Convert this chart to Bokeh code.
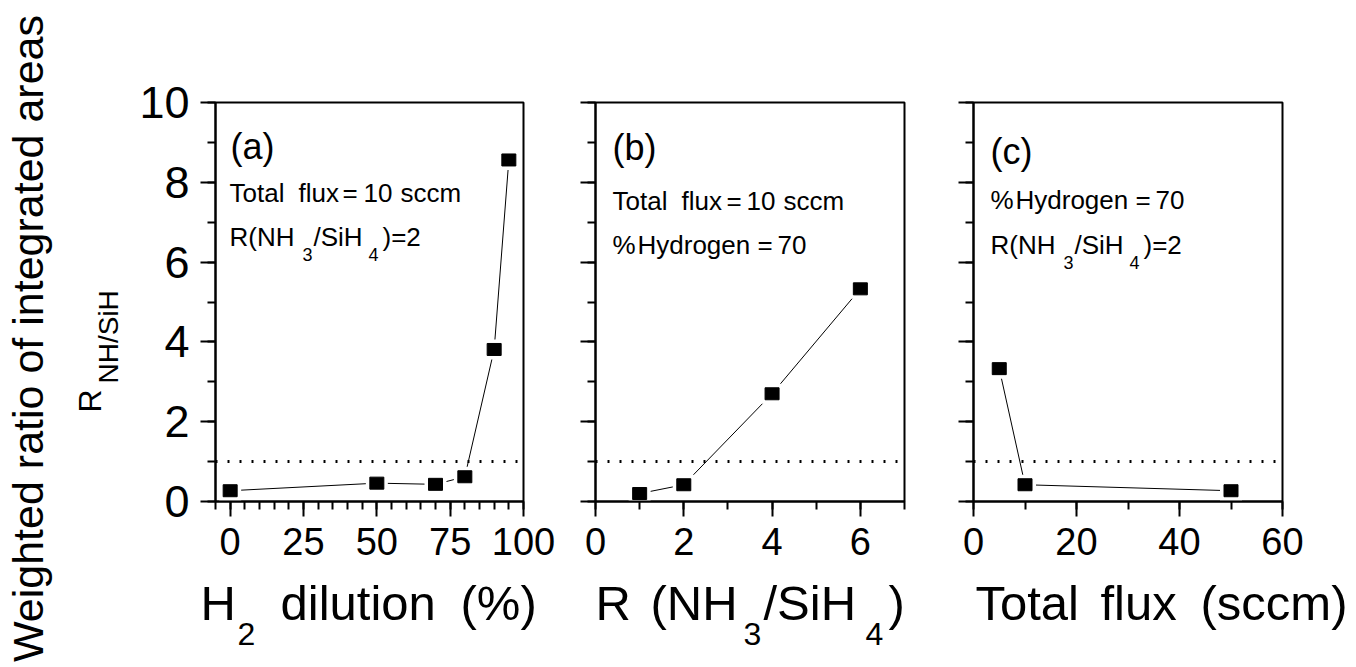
import math
from bokeh.plotting import figure
from bokeh.models import Range1d, SingleIntervalTicker, Label, Span
from bokeh.layouts import row, column
from bokeh.embed import file_html
from bokeh.resources import INLINE

FONT = "Liberation Sans"

# ---- data ----
h2_dilution = [0, 50, 70, 80, 90, 95]
ratio_a = [0.27, 0.46, 0.43, 0.62, 3.81, 8.56]

nh3_sih4 = [1, 2, 4, 6]
ratio_b = [0.2, 0.42, 2.7, 5.33]

total_flux = [5, 10, 50]
ratio_c = [3.33, 0.42, 0.27]

threshold = 1.0

# ---- layout (page pixels) ----
LEFT_W = 130          # width of the left strip holding the y titles
FRAME_TOP = 102
FRAME_H = 399
FRAME_BOTTOM = FRAME_TOP + FRAME_H
BOT_B = 75
PANEL_H = FRAME_TOP + FRAME_H + BOT_B
TITLE_H = 90
TOTAL_H = PANEL_H + TITLE_H
BASE_SHIFT = 0.3      # correction of the label baseline, in em


def make_fig(xr, xint, xminor, left, right, frame_w, show_ylabels):
    p = figure(width=left + frame_w + right, height=PANEL_H,
               x_range=Range1d(*xr), y_range=Range1d(0, 10),
               output_backend="svg", toolbar_location=None,
               min_border_left=left, min_border_right=right,
               min_border_top=FRAME_TOP, min_border_bottom=BOT_B)
    p.xgrid.visible = False
    p.ygrid.visible = False
    p.outline_line_color = "black"
    p.outline_line_width = 2
    p.outline_line_alpha = 1
    p.background_fill_color = "white"
    p.border_fill_color = "white"

    p.xaxis.ticker = SingleIntervalTicker(interval=xint, num_minor_ticks=xminor)
    p.yaxis.ticker = SingleIntervalTicker(interval=2, num_minor_ticks=2)
    for ax in (p.xaxis, p.yaxis):
        ax.axis_line_width = 2
        ax.axis_line_color = "black"
        ax.major_tick_line_width = 2
        ax.minor_tick_line_width = 2
        ax.major_tick_line_color = "black"
        ax.minor_tick_line_color = "black"
        ax.major_tick_out = 15
        ax.major_tick_in = 0
        ax.minor_tick_out = 8
        ax.minor_tick_in = 0
        ax.major_label_text_font = FONT
        ax.major_label_text_color = "black"
    p.xaxis.major_label_text_font_size = "38px"
    p.xaxis.major_label_standoff = 11
    if show_ylabels:
        p.yaxis.major_label_text_font_size = "45px"
        p.yaxis.major_label_standoff = 11
    else:
        p.yaxis.major_label_text_font_size = "11px"
        p.yaxis.major_label_text_color = None
        p.yaxis.major_label_standoff = 0
    return p


def text_fig(width, height):
    t = figure(width=width, height=height, x_range=Range1d(0, 1), y_range=Range1d(0, 1),
               output_backend="svg", toolbar_location=None,
               x_axis_location=None, y_axis_location=None,
               min_border=0, min_border_left=0, min_border_right=0,
               min_border_top=0, min_border_bottom=0)
    t.xgrid.visible = False
    t.ygrid.visible = False
    t.outline_line_color = None
    t.background_fill_color = "white"
    t.border_fill_color = "white"
    return t


def draw_series(p, xs, ys):
    p.line(xs, ys, line_color="black", line_width=1)
    p.rect(xs, ys, width=22, height=20, width_units="screen", height_units="screen",
           fill_color="white", line_color=None)
    p.rect(xs, ys, width=14, height=12, width_units="screen", height_units="screen",
           fill_color="black", line_color="black")
    p.add_layout(Span(location=threshold, dimension="width", line_color="black",
                      line_width=3, line_dash="2 10"))


def txt(p, left, bottom, text, px, py, size, rotated=False, align="left"):
    """Place text with its baseline at page position (px, py), given the page
    coordinates of the left and bottom edges of the figure's frame."""
    shift = BASE_SHIFT * size
    if rotated:
        px = px - shift
        angle = math.pi / 2
    else:
        py = py - shift
        angle = 0.0
    p.add_layout(Label(x=px - left, y=bottom - py,
                       x_units="screen", y_units="screen", text=text,
                       text_font=FONT, text_font_size=f"{size}px",
                       text_color="black", text_align=align,
                       text_baseline="alphabetic", angle=angle))


# ---- left strip: y titles ----
ty = text_fig(LEFT_W, TOTAL_H)
txt(ty, 0, TOTAL_H, "Weighted ratio of integrated areas", 40, 338, 43,
    rotated=True, align="center")
txt(ty, 0, TOTAL_H, "R", 99, 412, 32, rotated=True)
txt(ty, 0, TOTAL_H, "NH/SiH", 116, 383, 28, rotated=True)

# ---- panel (a) ----
FA = 215
pa = make_fig((-5, 100), 25, 5, FA - LEFT_W, 36, 308, True)
draw_series(pa, h2_dilution, ratio_a)
txt(pa, FA, FRAME_BOTTOM, "(a)", 230, 157, 36)
for t, x in [("Total", 229), ("flux", 298), ("=", 342), ("10", 363), ("sccm", 400)]:
    txt(pa, FA, FRAME_BOTTOM, t, x, 200, 26)
for t, x, y, s in [("R(NH", 229, 244, 26), ("3", 302, 259, 18), ("/SiH", 313, 244, 26),
                   ("4", 368, 259, 18), (")=2", 382, 244, 26)]:
    txt(pa, FA, FRAME_BOTTOM, t, x, y, s)

# ---- panel (b) ----
FB = 595
pb = make_fig((0, 7), 2, 2, 36, 34, 309, False)
draw_series(pb, nh3_sih4, ratio_b)
txt(pb, FB, FRAME_BOTTOM, "(b)", 612, 158, 36)
for t, x in [("Total", 612), ("flux", 681), ("=", 726), ("10", 746), ("sccm", 783)]:
    txt(pb, FB, FRAME_BOTTOM, t, x, 208, 26)
for t, x in [("%", 612), ("Hydrogen", 637), ("=", 757), ("70", 777)]:
    txt(pb, FB, FRAME_BOTTOM, t, x, 252, 26)

# ---- panel (c) ----
FC = 973
pc = make_fig((0, 60), 20, 2, 35, 72, 309, False)
draw_series(pc, total_flux, ratio_c)
txt(pc, FC, FRAME_BOTTOM, "(c)", 990, 162, 36)
for t, x in [("%", 990), ("Hydrogen", 1015), ("=", 1135), ("70", 1155)]:
    txt(pc, FC, FRAME_BOTTOM, t, x, 207, 26)
for t, x, y, s in [("R(NH", 990, 252, 26), ("3", 1063, 267, 18), ("/SiH", 1074, 252, 26),
                   ("4", 1129, 267, 18), (")=2", 1143, 252, 26)]:
    txt(pc, FC, FRAME_BOTTOM, t, x, y, s)

# ---- bottom strip: x titles ----
A_LEFT = LEFT_W
B_LEFT = A_LEFT + pa.width
C_LEFT = B_LEFT + pb.width
ta = text_fig(pa.width, TITLE_H)
tb = text_fig(pb.width, TITLE_H)
tc = text_fig(pc.width, TITLE_H)

txt(ta, A_LEFT, TOTAL_H, "H", 200, 617, 49)
txt(ta, A_LEFT, TOTAL_H, "2", 237, 643, 32)
txt(ta, A_LEFT, TOTAL_H, "dilution", 280, 617, 49)
txt(ta, A_LEFT, TOTAL_H, "(%)", 460, 617, 49)

txt(tb, B_LEFT, TOTAL_H, "R", 595, 617, 49)
txt(tb, B_LEFT, TOTAL_H, "(NH", 650, 617, 49)
txt(tb, B_LEFT, TOTAL_H, "3", 743, 643, 32)
txt(tb, B_LEFT, TOTAL_H, "/SiH", 763, 617, 49)
txt(tb, B_LEFT, TOTAL_H, "4", 865, 643, 32)
txt(tb, B_LEFT, TOTAL_H, ")", 888, 617, 49)

txt(tc, C_LEFT, TOTAL_H, "Total", 975, 617, 49)
txt(tc, C_LEFT, TOTAL_H, "flux", 1100, 617, 49)
txt(tc, C_LEFT, TOTAL_H, "(sccm)", 1200, 617, 49)

layout = row(ty, column(row(pa, pb, pc), row(ta, tb, tc)))
open("out.html", "w").write(file_html(layout, INLINE))
